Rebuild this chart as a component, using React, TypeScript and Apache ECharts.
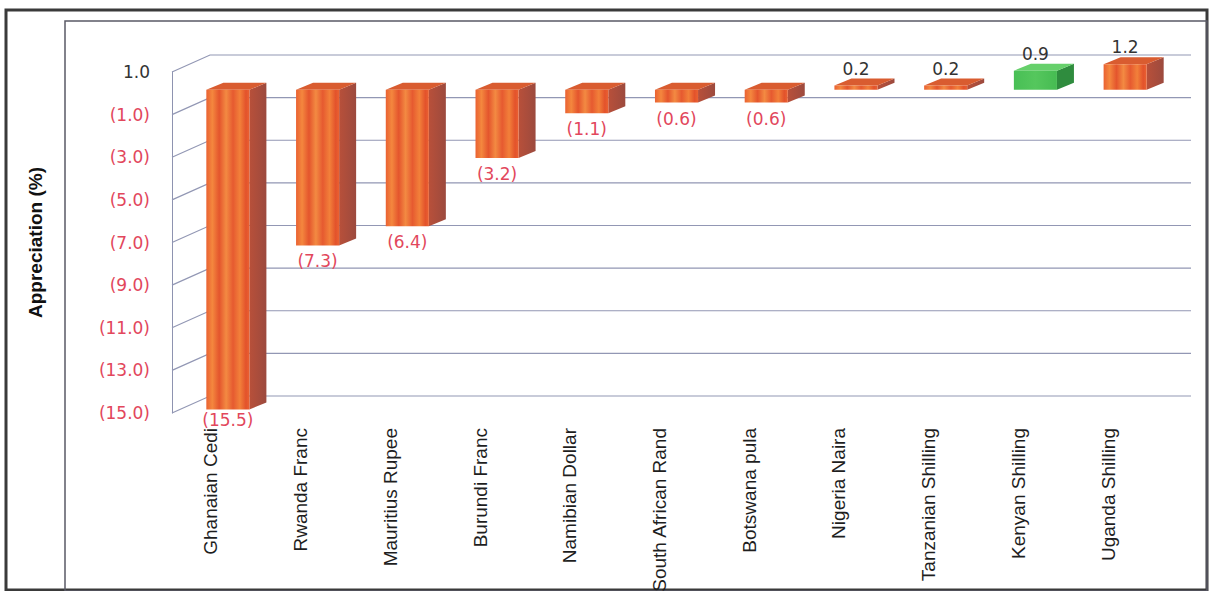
import React, { useEffect, useRef } from "react";
import * as echarts from "echarts";

// ---- data ----
const categories = [
  "Ghanaian Cedi",
  "Rwanda Franc",
  "Mauritius Rupee",
  "Burundi Franc",
  "Namibian Dollar",
  "South African Rand",
  "Botswana pula",
  "Nigeria Naira",
  "Tanzanian Shilling",
  "Kenyan Shilling",
  "Uganda Shilling",
];
const appreciation = [-15.5, -7.3, -6.4, -3.2, -1.1, -0.6, -0.6, 0.2, 0.2, 0.9, 1.2];
const highlightCategory = "Kenyan Shilling";
const yTickValues = [1, -1, -3, -5, -7, -9, -11, -13, -15];
const Y_MIN = -15;
const Y_MAX = 1;
const yAxisTitle = "Appreciation (%)";

// ---- styling constants ----
const AXIS_SHIFT = 6; // y axis line drawn 6px right of grid left
const WALL_DX = 38;
const WALL_DY = -17;
const BAR_DX = 17;
const BAR_DY = -7;
const BAR_SHIFT_X = 17;
const BAR_SHIFT_Y = -3.5;
const RED = "#e2475c";
const NUM_FONT = "'DejaVu Sans', Verdana, sans-serif";

const fmt = (v: number) => (v < 0 ? `(${Math.abs(v).toFixed(1)})` : v.toFixed(1));

const orangeFront = () =>
  new echarts.graphic.LinearGradient(0, 0, 1, 0, [
    { offset: 0, color: "#ea6232" },
    { offset: 0.14, color: "#f4873e" },
    { offset: 0.3, color: "#e4552d" },
    { offset: 0.46, color: "#f38a42" },
    { offset: 0.62, color: "#e65a30" },
    { offset: 0.78, color: "#f2803a" },
    { offset: 0.92, color: "#e3522b" },
    { offset: 1, color: "#ea6232" },
  ]);
const orangeSide = () =>
  new echarts.graphic.LinearGradient(0, 0, 1, 0, [
    { offset: 0, color: "#b8503a" },
    { offset: 1, color: "#9c4a3e" },
  ]);
const greenFront = () =>
  new echarts.graphic.LinearGradient(0, 0, 1, 0, [
    { offset: 0, color: "#48bf55" },
    { offset: 0.5, color: "#55c75d" },
    { offset: 1, color: "#46bb52" },
  ]);

export default function App() {
  const ref = useRef<HTMLDivElement>(null);

  useEffect(() => {
    if (!ref.current) return;
    const chart = echarts.init(ref.current, null, { renderer: "svg" });

    const barData = appreciation.map((v, i) => [i, v]);
    const gridData = yTickValues.map((v) => [0, v]);

    const option: any = {
      animation: false,
      backgroundColor: "#ffffff",
      graphic: [
        {
          type: "rect",
          shape: { x: 6, y: 10, width: 1201, height: 580 },
          style: { fill: "none", stroke: "#3a3a3a", lineWidth: 3 },
          silent: true,
        },
        {
          type: "rect",
          shape: { x: 65, y: 21, width: 1142, height: 570 },
          style: { fill: "none", stroke: "#5a5a66", lineWidth: 1.5 },
          silent: true,
        },
      ],
      grid: {
        left: 166,
        right: 62,
        top: 72,
        bottom: 178,
        containLabel: false,
        outerBoundsMode: "none",
      },
      xAxis: {
        type: "category",
        data: categories,
        boundaryGap: true,
        axisLine: { show: false },
        axisTick: { show: false },
        axisLabel: {
          rotate: 90,
          margin: 15,
          interval: 0,
          fontSize: 19,
          fontFamily: "'Liberation Sans', Arial, sans-serif",
          color: "#1e1e1e",
        },
        splitLine: { show: false },
      },
      yAxis: {
        type: "value",
        min: Y_MIN,
        max: Y_MAX,
        interval: 1,
        offset: -AXIS_SHIFT,
        name: yAxisTitle,
        nameLocation: "middle",
        nameRotate: 90,
        nameGap: 127,
        nameTextStyle: {
          fontSize: 19,
          fontWeight: "bold",
          fontFamily: "'Liberation Sans', Arial, sans-serif",
          color: "#111",
        },
        axisLine: { show: true, lineStyle: { color: "#8e93b0", width: 1 } },
        axisTick: { show: false },
        splitLine: { show: false },
        axisLabel: {
          margin: 22,
          fontSize: 17,
          fontFamily: NUM_FONT,
          formatter: (v: number) => {
            const r = Math.round(v);
            if (Math.abs(v - r) > 1e-6 || !yTickValues.includes(r)) return "";
            return r < 0 ? `{neg|${fmt(r)}}` : `{pos|${fmt(r)}}`;
          },
          rich: {
            neg: { color: RED, fontSize: 17, fontFamily: NUM_FONT },
            pos: { color: "#333", fontSize: 17, fontFamily: NUM_FONT },
          },
        },
      },
      series: [
        {
          type: "custom",
          name: "wall",
          z: 1,
          silent: true,
          encode: { x: 0, y: 1 },
          data: gridData,
          renderItem: (params: any, api: any) => {
            const v = api.value(1);
            const cs = params.coordSys;
            const y = api.coord([0, v])[1];
            const x0 = cs.x + AXIS_SHIFT;
            const xr = cs.x + cs.width + WALL_DX;
            return {
              type: "polyline",
              shape: {
                points: [
                  [x0, y],
                  [x0 + WALL_DX, y + WALL_DY],
                  [xr, y + WALL_DY],
                ],
              },
              style: { fill: "none", stroke: "#9297b4", lineWidth: 1.2 },
            };
          },
        },
        {
          type: "custom",
          name: "Appreciation",
          z: 5,
          clip: false,
          encode: { x: 0, y: 1 },
          data: barData,
          renderItem: (params: any, api: any) => {
            const i = api.value(0);
            const v = api.value(1);
            const vc = Math.max(v, Y_MIN);
            const base = api.coord([i, 0]);
            const end = api.coord([i, vc]);
            const w = api.size([1, 0])[0] * 0.48;
            const cx = base[0] + BAR_SHIFT_X;
            const y0 = base[1] + BAR_SHIFT_Y;
            const y1 = end[1] + BAR_SHIFT_Y;
            const top = Math.min(y0, y1);
            const bottom = Math.max(y0, y1);
            const l = cx - w / 2;
            const r = cx + w / 2;
            const green = categories[i] === highlightCategory;
            const front = green ? greenFront() : orangeFront();
            const side = green ? "#2f8c3e" : orangeSide();
            const topC = green ? "#66d06b" : "#d95c30";
            const clipped = v < Y_MIN;
            const labelY = v < 0 ? bottom + (clipped ? 10 : 16) : top + BAR_DY - 10;
            return {
              type: "group",
              children: [
                {
                  type: "polygon",
                  shape: { points: [[r, top], [r + BAR_DX, top + BAR_DY], [r + BAR_DX, bottom + BAR_DY], [r, bottom]] },
                  style: { fill: side },
                },
                {
                  type: "polygon",
                  shape: { points: [[l, top], [l + BAR_DX, top + BAR_DY], [r + BAR_DX, top + BAR_DY], [r, top]] },
                  style: { fill: topC },
                },
                {
                  type: "rect",
                  shape: { x: l, y: top, width: w, height: Math.max(bottom - top, 0.5) },
                  style: { fill: front },
                },
                {
                  type: "text",
                  z2: 10,
                  style: {
                    x: cx,
                    y: labelY,
                    text: fmt(v),
                    fill: v < 0 ? RED : "#333",
                    fontSize: 17,
                    fontFamily: NUM_FONT,
                    align: "center",
                    verticalAlign: "middle",
                  },
                },
              ],
            };
          },
        },
      ],
    };

    chart.setOption(option);
    return () => chart.dispose();
  }, []);

  return (
    <div
      ref={ref}
      style={{ position: "fixed", left: 0, top: 0, width: 1215, height: 591, background: "#fff" }}
    />
  );
}
